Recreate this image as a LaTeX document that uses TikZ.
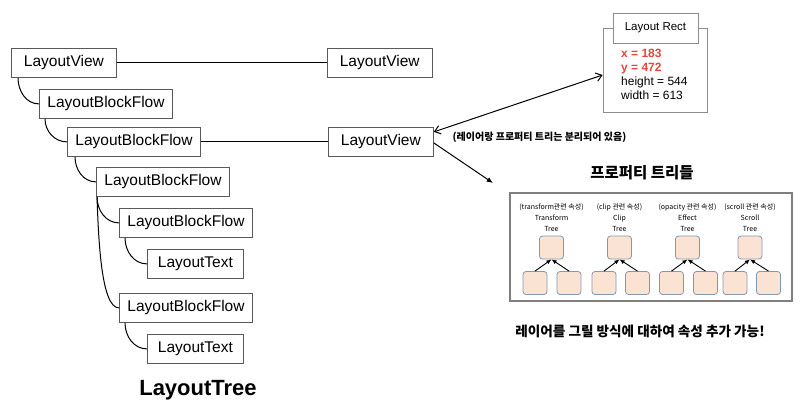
\documentclass[tikz,border=0pt]{standalone}
\usepackage{fontspec}
\setmainfont{Liberation Sans}
\newfontfamily\kfont{Noto Sans CJK KR}
\usetikzlibrary{arrows.meta, positioning, calc}
\definecolor{cBorder}{HTML}{595959}
\definecolor{cRect}{HTML}{8C8C8C}
\definecolor{cRed}{HTML}{E8453C}
\definecolor{cProp}{HTML}{7F7F7F}
\definecolor{cLeafFill}{HTML}{FBE3D4}
\definecolor{cLeafDraw}{HTML}{8497B0}
\tikzset{
  treebox/.style={draw=cBorder, line width=0.8pt, anchor=north west, inner xsep=8pt,
    minimum height=29pt, font=\fontsize{15.5}{18}\selectfont},
  viewbox/.style={treebox, minimum width=105pt},
  textbox/.style={treebox, minimum width=96pt},
  treelink/.style={line width=1pt, draw=black},
  rectbox/.style={draw=cRect, line width=0.8pt, minimum width=104pt, minimum height=84pt},
  recttitle/.style={draw=cRect, fill=white, line width=0.8pt, minimum width=85pt,
    minimum height=30pt, font=\fontsize{11.5}{14}\selectfont},
  rectlines/.style={align=left, inner sep=0pt, anchor=north west,
    font=\fontsize{12}{14}\selectfont},
  bothflow/.style={{Straight Barb[length=2mm, width=3mm]}-{Straight Barb[length=2mm, width=3mm]},
    line width=1pt, draw=black},
  flow/.style={-{Latex[length=2.2mm, width=1.8mm]}, line width=1pt, draw=black},
  notelabel/.style={font=\kfont\bfseries\fontsize{10}{12}\selectfont},
  titlelabel/.style={font=\kfont\bfseries\fontsize{15.5}{18}\selectfont},
  bottomlabel/.style={font=\kfont\bfseries\fontsize{13.6}{16}\selectfont},
  treetitle/.style={font=\bfseries\fontsize{22}{26}\selectfont},
  propframe/.style={draw=cProp, line width=1.3pt, minimum width=282pt, minimum height=108pt},
  proplabel/.style={align=center, inner sep=0pt, font=\kfont\fontsize{7}{11}\selectfont},
  leafbox/.style={draw=cLeafDraw, fill=cLeafFill, rounded corners=3pt, line width=0.8pt,
    minimum width=24pt, minimum height=23pt, inner sep=0pt},
  leafflow/.style={-{Latex[length=1.8mm, width=1.5mm]}, line width=0.9pt, draw=black},
}

\begin{document}
\begin{tikzpicture}[x=1pt, y=-1pt]
  \useasboundingbox (0,0) rectangle (800,413);

  % ==================================================================
  % Layout tree (left)
  % ==================================================================
  \node[viewbox] (lv) at (11,48) {LayoutView};
  \node[treebox] (bf1) at (39,89) {LayoutBlockFlow};
  \node[treebox] (bf2) at (67,127) {LayoutBlockFlow};
  \node[treebox] (bf3) at (96,167) {LayoutBlockFlow};
  \node[treebox] (bf4) at (119,208) {LayoutBlockFlow};
  \node[textbox] (txt1) at (147,249) {LayoutText};
  \node[treebox] (bf5) at (119,293) {LayoutBlockFlow};
  \node[textbox] (txt2) at (147,334) {LayoutText};

  \node[treetitle] (treename) at (198,390) {LayoutTree};

  % tree links
  \draw[treelink] ([xshift=7pt]lv.south west) to[out=-90, in=180] (bf1.west);
  \draw[treelink] ([xshift=6pt]bf1.south west) to[out=-90, in=180] (bf2.west);
  \draw[treelink] ([xshift=8pt]bf2.south west) to[out=-90, in=180] (bf3.west);
  \draw[treelink] ([xshift=1pt]bf3.south west) to[out=-90, in=180] (bf4.west);
  \draw[treelink] ([xshift=1pt]bf3.south west) to[out=-88, in=180, in looseness=0.4] (bf5.west);
  \draw[treelink] ([xshift=6pt]bf4.south west) to[out=-90, in=180] (txt1.west);
  \draw[treelink] ([xshift=6pt]bf5.south west) to[out=-90, in=180] (txt2.west);

  % ==================================================================
  % Layer views (middle)
  % ==================================================================
  \node[viewbox, right=210pt of lv] (rlv1) {LayoutView};
  \node[viewbox, right=127pt of bf2] (rlv2) {LayoutView};

  \draw[treelink] (lv.east) -- (rlv1.west);
  \draw[treelink] (bf2.east) -- (rlv2.west);

  % ==================================================================
  % Layout rect (top right)
  % ==================================================================
  \node[rectbox] (rect) at (655,70) {};
  \node[recttitle] (recttitle) at (655.5,28) {Layout Rect};
  \node[rectlines] (rectvals) at (621,49)
    {\textcolor{cRed}{\textbf{x = 183}}\\ \textcolor{cRed}{\textbf{y = 472}}\\ height = 544\\ width = 613};

  \draw[bothflow] ([yshift=10pt]rlv2.east) -- ([yshift=-5pt]rect.west);
  \node[notelabel] (sepnote) at (539.5,137) {(레이어랑 프로퍼티 트리는 분리되어 있음)};

  \coordinate (propin) at (493,183);
  \draw[flow] ([yshift=-1pt]rlv2.east) -- (propin);

  % ==================================================================
  % Property trees (bottom right)
  % ==================================================================
  \node[titlelabel] (proptitle) at (642,173) {프로퍼티 트리들};
  \node[propframe] (propbox) at (651,247) {};

  \foreach \cx/\lx/\rx/\tag/\kind/\i in {
      551.5/535/569/{(transform관련 속성)}/Transform/1,
      619.5/604/637.5/{(clip 관련 속성)}/Clip/2,
      687.5/671.5/705.5/{(opacity 관련 속성)}/Effect/3,
      750/735/768.5/{(scroll 관련 속성)}/Scroll/4}{
    \node[proplabel] (lab\i) at (\cx,218) {\tag\\ \kind\\ Tree};
    \node[leafbox] (top\i) at (\cx,247.5) {};
    \node[leafbox] (left\i) at (\lx,283) {};
    \node[leafbox] (right\i) at (\rx,283) {};
    \draw[leafflow] (left\i.north) -- (top\i.south);
    \draw[leafflow] (right\i.north) -- (top\i.south);
  }

  \node[bottomlabel] (addnote) at (640,331) {레이어를 그릴 방식에 대하여 속성 추가 가능!};

\end{tikzpicture}
\end{document}
